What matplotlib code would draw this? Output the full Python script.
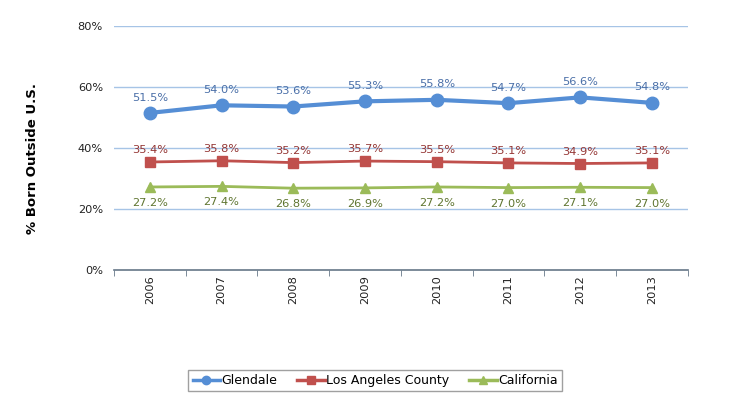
import matplotlib
matplotlib.use("Agg")
import matplotlib.pyplot as plt
from matplotlib.ticker import FixedLocator, PercentFormatter

years = ["2006", "2007", "2008", "2009", "2010", "2011", "2012", "2013"]
glendale = [51.5, 54.0, 53.6, 55.3, 55.8, 54.7, 56.6, 54.8]
la_county = [35.4, 35.8, 35.2, 35.7, 35.5, 35.1, 34.9, 35.1]
california = [27.2, 27.4, 26.8, 26.9, 27.2, 27.0, 27.1, 27.0]

plt.rcParams['font.family'] = ['DejaVu Sans']
fig = plt.figure(figsize=(7.5, 4.01), dpi=100)
ax = fig.add_axes([0.152, 0.327, 0.765, 0.608])

x = list(range(len(years)))
ax.plot(x, glendale, color="#558ED5", lw=3, marker="o", ms=9, label="Glendale", zorder=4)
ax.plot(x, la_county, color="#C0504D", lw=2, marker="s", ms=7, label="Los Angeles County", zorder=4)
ax.plot(x, california, color="#9BBB59", lw=2, marker="^", ms=7, label="California", zorder=4)

fs = 8.2
for i in x:
    ax.annotate(f"{glendale[i]:.1f}%", (i, glendale[i]), xytext=(0, 7.5), textcoords="offset points",
                ha="center", va="bottom", fontsize=fs, color="#4A6FA8")
    ax.annotate(f"{la_county[i]:.1f}%", (i, la_county[i]), xytext=(0, 5), textcoords="offset points",
                ha="center", va="bottom", fontsize=fs, color="#953735")
    ax.annotate(f"{california[i]:.1f}%", (i, california[i]), xytext=(0, -8), textcoords="offset points",
                ha="center", va="top", fontsize=fs, color="#5F7530")

ax.set_xlim(-0.5, len(years) - 0.5)
ax.set_ylim(0, 80)
ax.set_yticks([0, 20, 40, 60, 80])
ax.yaxis.set_major_formatter(PercentFormatter(decimals=0))
ax.set_xticks(x)
ax.set_xticklabels(years, rotation=90, fontsize=fs, color="#222222")
ax.xaxis.set_minor_locator(FixedLocator([i - 0.5 for i in range(len(years) + 1)]))
ax.tick_params(axis="x", which="major", length=0, pad=4)
ax.tick_params(axis="x", which="minor", length=4, color="#667788")
ax.tick_params(axis="y", length=0, labelsize=fs, labelcolor="#222222", pad=8)

for s in ["top", "right", "left"]:
    ax.spines[s].set_visible(False)
ax.spines["bottom"].set_color("#667788")
ax.spines["bottom"].set_linewidth(1.2)

ax.yaxis.grid(True, color="#A6C4E6", lw=1)
ax.set_axisbelow(True)
for gl in ax.get_ygridlines()[:1]:
    gl.set_visible(False)

ax.set_ylabel("% Born Outside U.S.", fontsize=9.5, fontweight="bold")
ax.yaxis.set_label_coords(-0.13, 0.455)

leg = fig.legend(loc="center", bbox_to_anchor=(0.5, 0.051), ncol=3, fontsize=9,
                 frameon=True, fancybox=False, edgecolor="#888888",
                 handlelength=2.2, handletextpad=0.1, columnspacing=1.6, borderpad=0.35)
for h in leg.legend_handles:
    h.set_markersize(6)
    h.set_linewidth(2.5)

fig.savefig("out.png", dpi=100)
